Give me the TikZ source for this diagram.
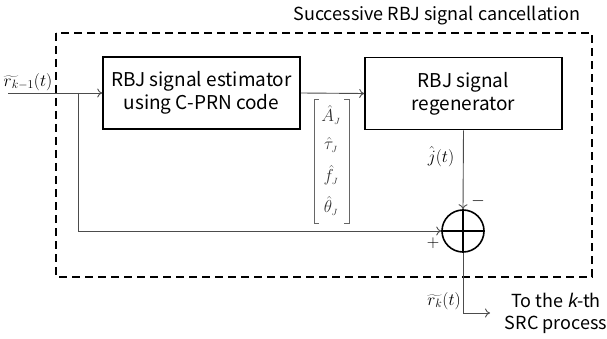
\documentclass[tikz,border=0pt]{standalone}
\usepackage{fontspec}
\setmainfont{Noto Sans CJK KR}
\newfontfamily\slantsans[FakeSlant=0.2]{Noto Sans CJK KR}
\usetikzlibrary{arrows.meta}
\newcommand{\wider}[1]{\widetilde{r\mkern7mu}\mkern-7mu{}_{#1}}
\tikzset{
  blockbox/.style={draw=black, line width=1.6pt, minimum width=197pt, minimum height=72pt,
    align=center, font=\fontsize{19}{23}\selectfont, inner sep=0pt},
  sig/.style={draw=black!70, line width=0.9pt},
  sigarrow/.style={sig, -{To[length=5pt,width=9pt]}},
  lbl/.style={font=\fontsize{17}{19}\selectfont, inner sep=0pt},
  vecentry/.style={text=black!80, font=\fontsize{19}{21}\selectfont, inner sep=0pt},
  bracket/.style={draw=black!60, line width=0.9pt},
}
\begin{document}
\begin{tikzpicture}[x=1pt, y=-1pt]
\useasboundingbox (0,0) rectangle (607,339);

% enclosing stage
\draw[line width=1.6pt, dash pattern=on 8pt off 5pt] (56,33) rectangle (592,277);
\node[font=\fontsize{18}{20}\selectfont, inner sep=0pt] (title) at (437,16) {Successive RBJ signal cancellation};

% processing blocks
\node[blockbox] (est) at (201.5,93) {RBJ signal estimator\\using C-PRN code};
\node[blockbox] (regen) at (463.5,93.5) {RBJ signal\\regenerator};

% summing junction
\node[circle, draw=black, line width=1.6pt, minimum size=42pt, inner sep=0pt] (sum) at (463,231) {};
\draw[line width=1.6pt] (sum.north) -- (sum.south);
\draw[line width=1.6pt] (sum.west) -- (sum.east);

% input and feed-forward branch
\coordinate (in) at (8,93);
\coordinate (split) at (78,93);
\coordinate (corner) at (78,231);
\draw[sigarrow] (in) -- (est.west);
\draw[sig] (split) -- (corner);
\draw[sigarrow] (corner) -- (sum.west);
\node[lbl] (rin) at (28,82) {$\wider{k-1}(t)$};

% parameter estimates to the regenerator
\draw[sigarrow] (est.east) -- (regen.west);
\path (314,99) coordinate (vnw) (349,223) coordinate (vse);
\draw[bracket] ([xshift=5pt]vnw) -- (vnw) -- (vnw|-vse) -- ([xshift=5pt]vnw|-vse);
\draw[bracket] ([xshift=-5pt]vse|-vnw) -- (vse|-vnw) -- (vse) -- ([xshift=-5pt]vse);
\node[vecentry] (vA) at (331,115) {$\hat{A}_{\scriptscriptstyle J}$};
\node[vecentry] (vtau) at (331,145) {$\hat{\tau}_{\scriptscriptstyle J}$};
\node[vecentry] (vf) at (331,175) {$\hat{f}_{\scriptscriptstyle J}$};
\node[vecentry] (vth) at (331,206) {$\hat{\theta}_{\scriptscriptstyle J}$};

% regenerated signal subtracted
\draw[sigarrow] (regen.south) -- (sum.north);
\node[lbl] (jhat) at (441,157) {$\hat{j}(t)$};
\node[lbl] (minus) at (478,201) {$-$};
\node[lbl] (plus) at (433,243) {$+$};

% output
\coordinate (outcorner) at (463,313);
\coordinate (out) at (490,313);
\draw[sig] (sum.south) -- (outcorner);
\draw[sigarrow] (outcorner) -- (out);
\node[lbl] (rout) at (444,301) {$\wider{k}(t)$};
\node[font=\fontsize{18}{22}\selectfont, align=center, inner sep=0pt] (next) at (556,313) {To the {\slantsans k}-th\\SRC process};
\end{tikzpicture}
\end{document}
